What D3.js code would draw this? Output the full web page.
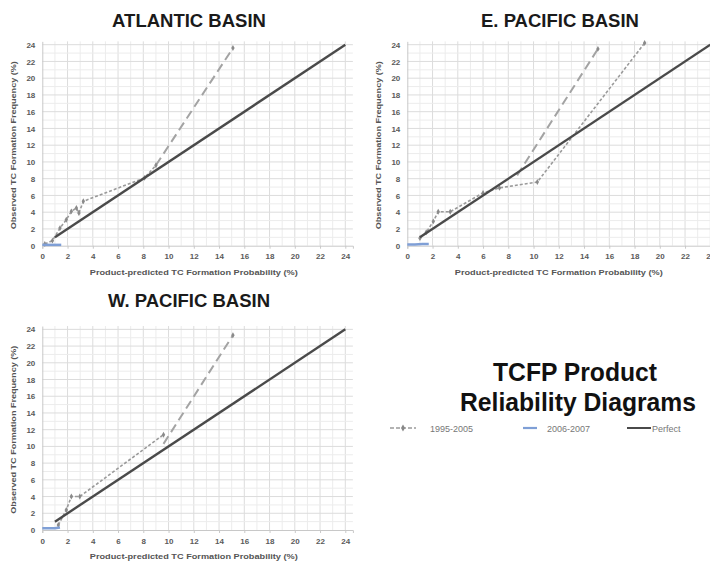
<!DOCTYPE html>
<html><head><meta charset="utf-8">
<script src="https://cdn.jsdelivr.net/npm/d3@7"></script>
<style>body{margin:0;background:#fff}svg{display:block}</style>
</head><body>
<script>
// ---- data ----
const panelNames = ["ATLANTIC BASIN", "E. PACIFIC BASIN", "W. PACIFIC BASIN"];
const tickValues = [0,2,4,6,8,10,12,14,16,18,20,22,24];
const xLabel = "Product-predicted TC Formation Probability (%)";
const yLabel = "Observed TC Formation Frequency (%)";
const legendNames = ["1995-2005", "2006-2007", "Perfect"];

const atlHist = [[0.2,0.2],[0.8,0.6],[1.4,2.1],[1.9,3.1],[2.3,4.1],[2.7,4.5],[2.9,3.9],[3.25,5.3],[8.1,8.1],[9.0,9.6]];
const atlTrend = [[9.0,9.6],[15.1,23.6]];
const atlRecent = [[0,0.1],[0.5,0.1],[1.0,0.1],[1.5,0.1]];

const epHist = [[1.0,0.9],[1.5,1.6],[2.06,2.9],[2.45,4.06],[3.4,4.06],[6.0,6.3],[7.3,6.9],[10.3,7.6],[18.8,24.2]];
const epTrend = [[8.7,8.4],[15.1,23.5]];
const epRecent = [[0,0.15],[0.6,0.15],[1.2,0.2],[1.7,0.2]];

const wpHist = [[1.27,0.6],[1.9,2.4],[2.3,4.0],[2.97,4.0],[9.6,11.4]];
const wpTrend = [[9.6,10.3],[15.1,23.3]];
const wpRecent = [[0,0.2],[0.5,0.2],[1.0,0.2],[1.4,0.3]];

const perfect = [[1,1],[24,24]];

const histSets = [atlHist, epHist, wpHist];
const trendSets = [atlTrend, epTrend, wpTrend];
const recentSets = [atlRecent, epRecent, wpRecent];

// ---- layout ----
const W = 710, H = 565;
const svg = d3.select("body").append("svg").attr("width", W).attr("height", H);
const panels = [
  {x0:42.3, y0:245.7, ppx:12.625, ppy:8.375, tx:189, ty:27},
  {x0:407.3, y0:245.7, ppx:12.625, ppy:8.375, tx:560, ty:27},
  {x0:42.3, y0:530, ppx:12.625, ppy:8.36, tx:189, ty:307}
];
const xMax = 24.6, yMax = 24.4;

const colHist = "#9a9a9a", colTrend = "#a3a3a3", colRecent = "#7f9fd6", colPerf = "#4a4a4a";

panels.forEach((p, i) => {
  const g = svg.append("g");
  const x = d3.scaleLinear().domain([0, xMax]).range([p.x0, p.x0 + xMax*p.ppx]);
  const y = d3.scaleLinear().domain([0, yMax]).range([p.y0, p.y0 - yMax*p.ppy]);

  // grid every 1 unit
  const gx = d3.range(1, 25);
  g.selectAll(".vg").data(gx).join("line")
    .attr("x1", d => x(d)).attr("x2", d => x(d)).attr("y1", y(0)).attr("y2", y(yMax))
    .attr("stroke", d => d % 2 === 0 ? "#dcdcdc" : "#ececec").attr("stroke-width", 1);
  g.selectAll(".hg").data(gx).join("line")
    .attr("y1", d => y(d)).attr("y2", d => y(d)).attr("x1", x(0)).attr("x2", x(xMax))
    .attr("stroke", d => d % 2 === 0 ? "#dcdcdc" : "#ececec").attr("stroke-width", 1);

  // axes
  const xa = g.append("g").attr("transform", `translate(0,${y(0)})`)
    .call(d3.axisBottom(x).tickValues(tickValues).tickSize(3).tickPadding(5));
  const ya = g.append("g").attr("transform", `translate(${x(0)},0)`)
    .call(d3.axisLeft(y).tickValues(tickValues).tickSize(0).tickPadding(7));
  [xa, ya].forEach(a => {
    a.select(".domain").attr("stroke", "#c8c8c8");
    a.selectAll(".tick line").attr("stroke", "#c8c8c8");
    a.selectAll("text").attr("fill", "#5a5a5a").attr("font-family", "Liberation Sans, Arial, sans-serif")
      .attr("font-size", 8).attr("font-weight", "bold");
  });
  xa.selectAll(".tick:first-child line").remove();

  // axis titles
  g.append("text").attr("x", x(12)).attr("y", p.y0 + 29).attr("text-anchor", "middle")
    .attr("font-family", "Liberation Sans, Arial, sans-serif").attr("font-size", 7.6).attr("font-weight", "bold")
    .attr("fill", "#555").attr("textLength", 208).attr("lengthAdjust", "spacingAndGlyphs").text(xLabel);
  g.append("text").attr("transform", `translate(${p.x0 - 26},${y(12)}) rotate(-90)`).attr("text-anchor", "middle")
    .attr("font-family", "Liberation Sans, Arial, sans-serif").attr("font-size", 7.6).attr("font-weight", "bold")
    .attr("fill", "#555").attr("textLength", 168).attr("lengthAdjust", "spacingAndGlyphs").text(yLabel);

  // panel title
  g.append("text").attr("x", p.tx).attr("y", p.ty).attr("text-anchor", "middle")
    .attr("font-family", "Liberation Sans, Arial, sans-serif").attr("font-size", 18.5).attr("font-weight", "bold")
    .attr("fill", "#1a1a1a").text(panelNames[i]);

  const line = d3.line().x(d => x(d[0])).y(d => y(d[1]));

  // trend (long dash)
  g.append("path").datum(trendSets[i]).attr("d", line).attr("fill", "none")
    .attr("stroke", colTrend).attr("stroke-width", 2).attr("stroke-dasharray", "9,5");
  // hist (short dash)
  g.append("path").datum(histSets[i]).attr("d", line).attr("fill", "none")
    .attr("stroke", colHist).attr("stroke-width", 1.6).attr("stroke-dasharray", "3,2");
  const sym = d3.symbol().type(d3.symbolDiamond).size(10);
  g.selectAll(".mk").data(histSets[i].concat([trendSets[i][1]])).join("path")
    .attr("transform", d => `translate(${x(d[0])},${y(d[1])})`).attr("d", sym).attr("fill", "#8a8a8a");
  // recent
  g.append("path").datum(recentSets[i]).attr("d", line).attr("fill", "none")
    .attr("stroke", colRecent).attr("stroke-width", 2.5);
  // perfect
  g.append("path").datum(perfect).attr("d", line).attr("fill", "none")
    .attr("stroke", colPerf).attr("stroke-width", 2.4);
});

// legend / caption
const cap = svg.append("g").attr("font-family", "Liberation Sans, Arial, sans-serif").attr("font-weight", "bold").attr("fill", "#111");
cap.append("text").attr("x", 575).attr("y", 381).attr("text-anchor", "middle").attr("font-size", 25)
  .attr("textLength", 164).attr("lengthAdjust", "spacingAndGlyphs").text("TCFP Product");
cap.append("text").attr("x", 578).attr("y", 411).attr("text-anchor", "middle").attr("font-size", 25)
  .attr("textLength", 236).attr("lengthAdjust", "spacingAndGlyphs").text("Reliability Diagrams");

const leg = svg.append("g").attr("font-family", "Liberation Sans, Arial, sans-serif").attr("font-size", 9).attr("fill", "#777");
const ly = 428;
leg.append("line").attr("x1", 390).attr("x2", 416).attr("y1", ly).attr("y2", ly).attr("stroke", colHist).attr("stroke-width", 1.6).attr("stroke-dasharray", "4,2");
leg.append("path").attr("transform", `translate(403,${ly})`).attr("d", d3.symbol().type(d3.symbolDiamond).size(14)).attr("fill", "#888");
leg.append("text").attr("x", 430).attr("y", ly + 3.5).text(legendNames[0]);
leg.append("line").attr("x1", 523).attr("x2", 537).attr("y1", ly).attr("y2", ly).attr("stroke", colRecent).attr("stroke-width", 2.2);
leg.append("text").attr("x", 547).attr("y", ly + 3.5).text(legendNames[1]);
leg.append("line").attr("x1", 627).attr("x2", 651).attr("y1", ly).attr("y2", ly).attr("stroke", colPerf).attr("stroke-width", 2);
leg.append("text").attr("x", 652).attr("y", ly + 3.5).text(legendNames[2]);
</script>
</body></html>
